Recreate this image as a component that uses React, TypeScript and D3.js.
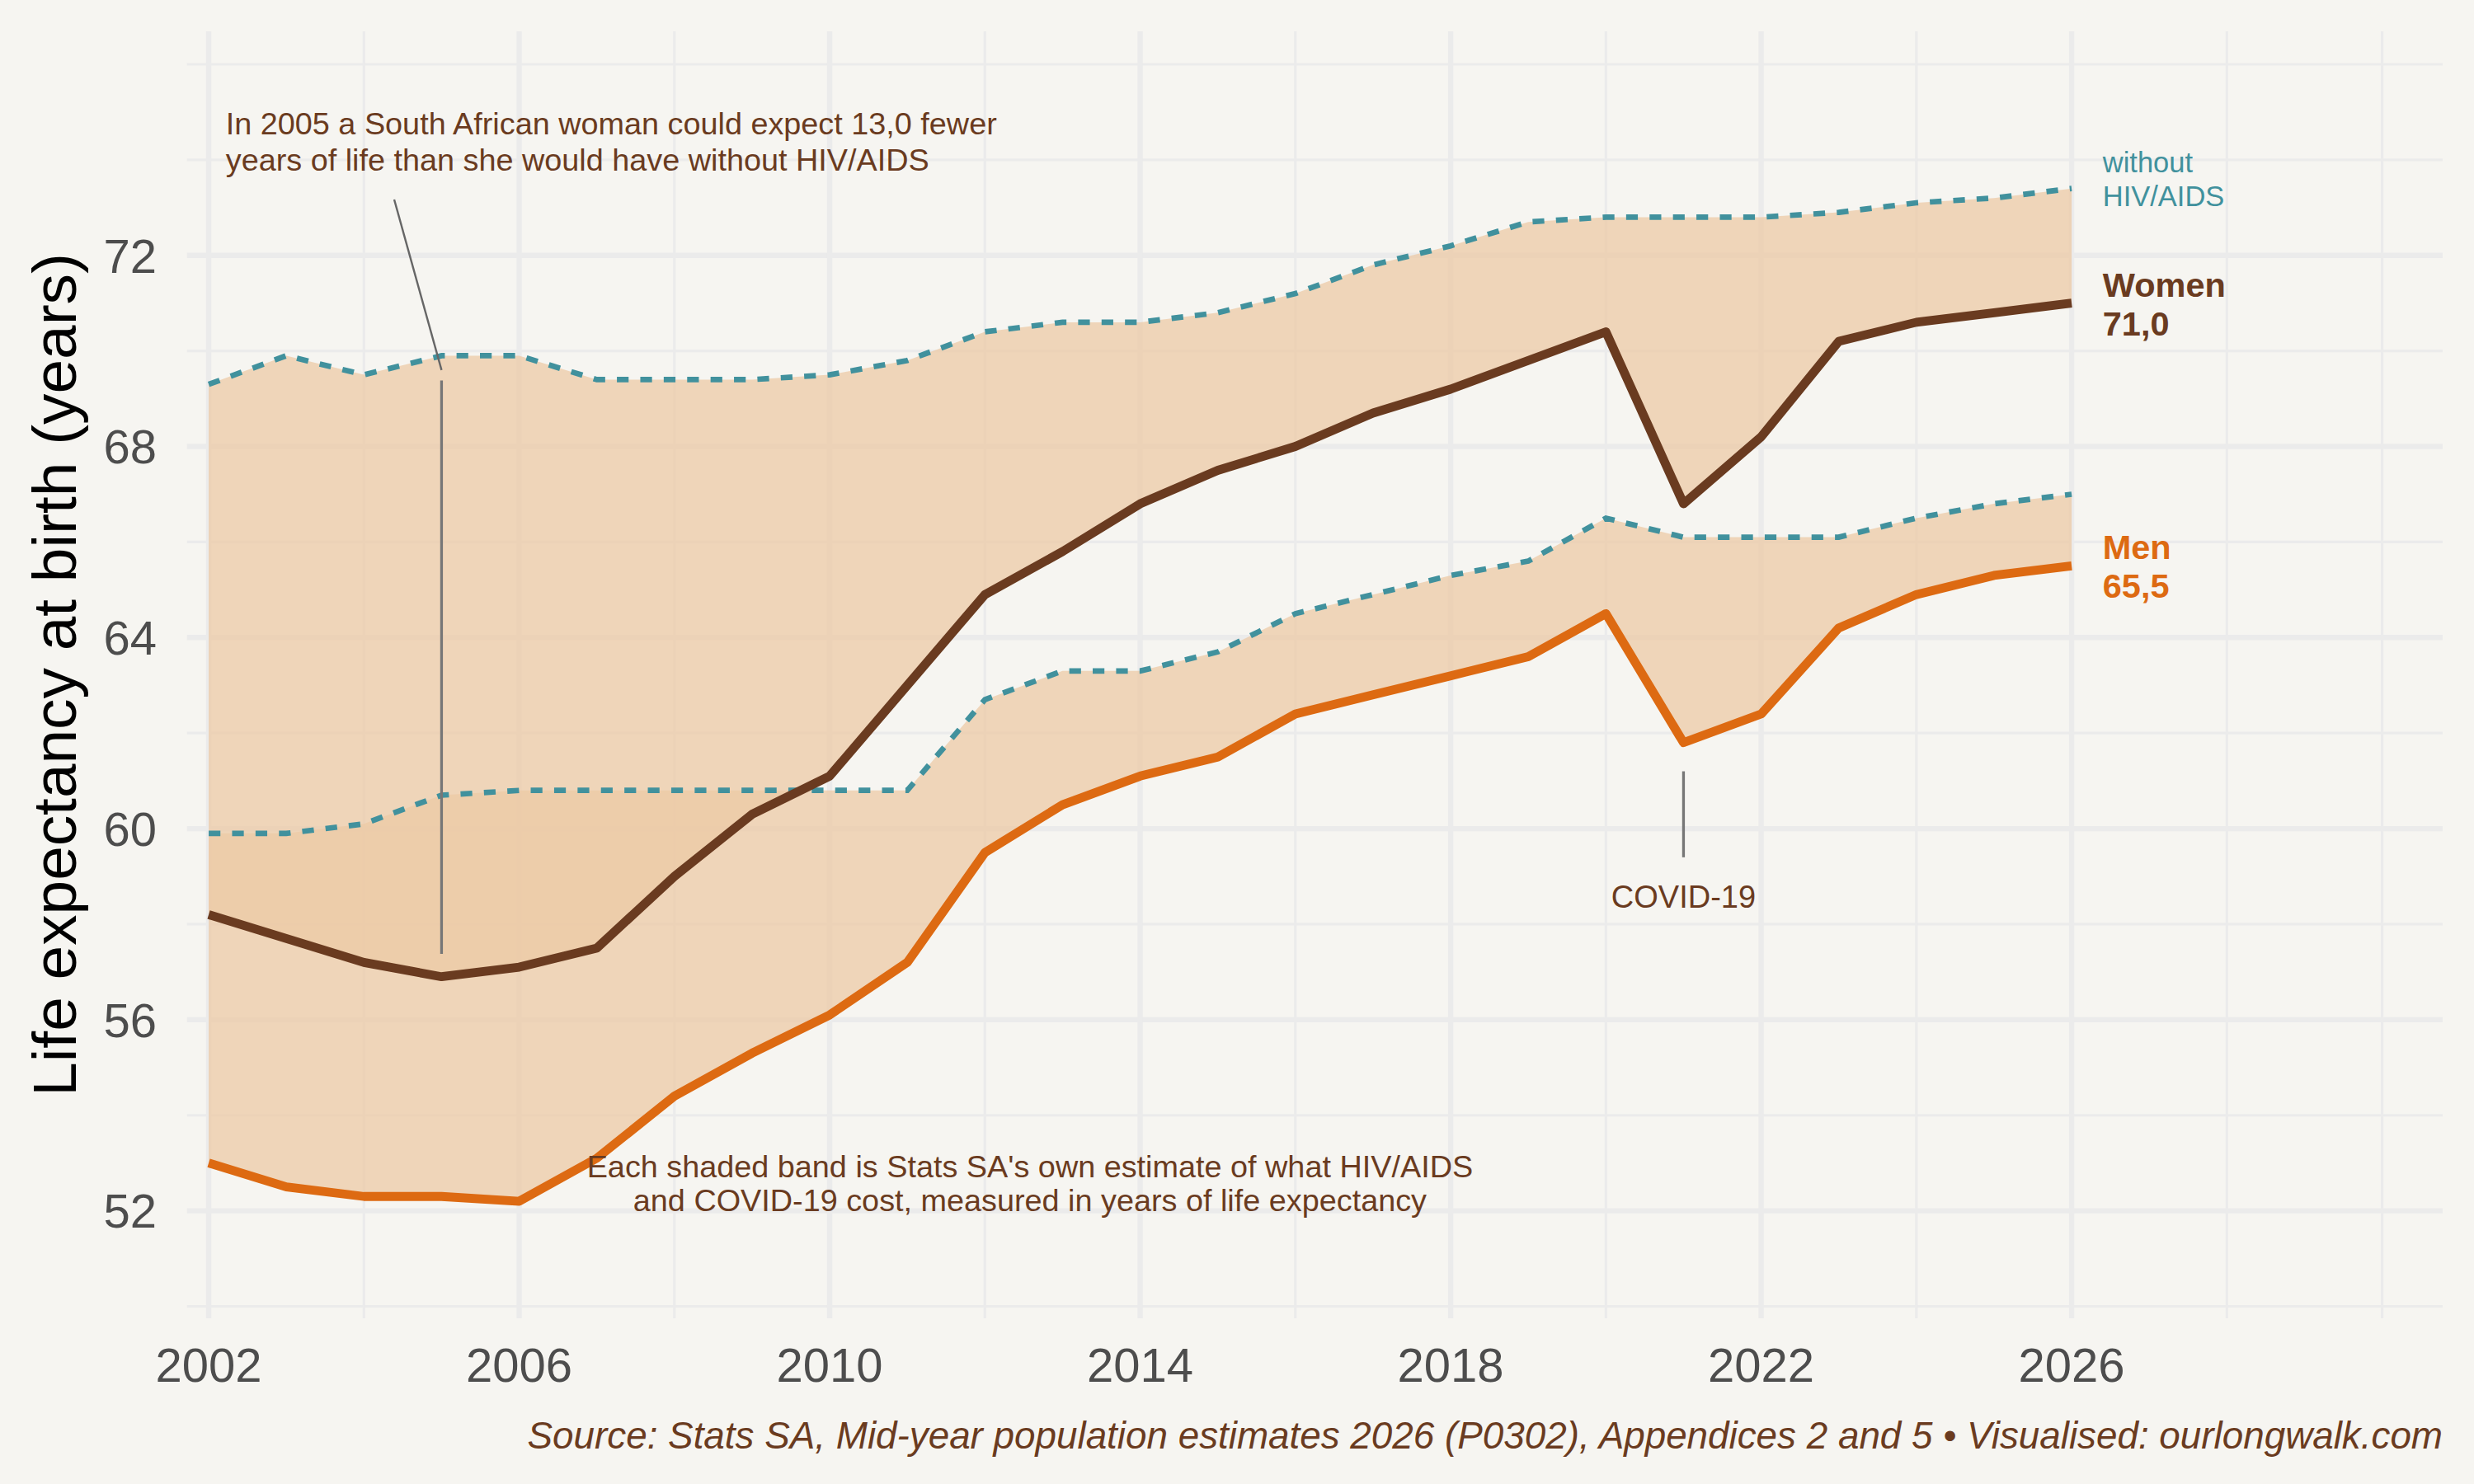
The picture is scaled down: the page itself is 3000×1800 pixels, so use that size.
import { useEffect } from "react"
import * as d3 from "d3"

// Stats SA mid-year estimates, life expectancy at birth
const years = [
  2002, 2003, 2004, 2005, 2006, 2007, 2008, 2009, 2010, 2011, 2012, 2013, 2014,
  2015, 2016, 2017, 2018, 2019, 2020, 2021, 2022, 2023, 2024, 2025, 2026,
]
const women = [
  58.2, 57.7, 57.2, 56.9, 57.1, 57.5, 59.0, 60.3, 61.1, 63.0, 64.9, 65.8, 66.8,
  67.5, 68.0, 68.7, 69.2, 69.8, 70.4, 66.8, 68.2, 70.2, 70.6, 70.8, 71.0,
]
const womenNoHiv = [
  69.3, 69.9, 69.5, 69.9, 69.9, 69.4, 69.4, 69.4, 69.5, 69.8, 70.4, 70.6, 70.6,
  70.8, 71.2, 71.8, 72.2, 72.7, 72.8, 72.8, 72.8, 72.9, 73.1, 73.2, 73.4,
]
const men = [
  53.0, 52.5, 52.3, 52.3, 52.2, 53.1, 54.4, 55.3, 56.1, 57.2, 59.5, 60.5, 61.1,
  61.5, 62.4, 62.8, 63.2, 63.6, 64.5, 61.8, 62.4, 64.2, 64.9, 65.3, 65.5,
]
const menNoHiv = [
  59.9, 59.9, 60.1, 60.7, 60.8, 60.8, 60.8, 60.8, 60.8, 60.8, 62.7, 63.3, 63.3,
  63.7, 64.5, 64.9, 65.3, 65.6, 66.5, 66.1, 66.1, 66.1, 66.5, 66.8, 67.0,
]

const xMajor = [2002, 2006, 2010, 2014, 2018, 2022, 2026]
const xMinor = [2004, 2008, 2012, 2016, 2020, 2024, 2028, 2030]
const yMajor = [52, 56, 60, 64, 68, 72]
const yMinor = [50, 54, 58, 62, 66, 70, 74, 76]

const W = 3000
const H = 1800
const BG = "#F6F5F1"
const GRID = "#EBEBEB"
const BROWN = "#6A3B20"
const ORANGE = "#DD6A12"
const TEAL = "#41919D"
const BAND = "#ECCAA6"
const FONT = "'Liberation Sans', Arial, Helvetica, sans-serif"

const x = d3.scaleLinear().domain([2001.72, 2030.78]).range([226.7, 2962])
const y = d3.scaleLinear().domain([49.75, 76.69]).range([1599, 38])

type Pt = { year: number; lo: number; hi: number }

function band(lo: number[], hi: number[]) {
  const pts: Pt[] = years.map((yr, i) => ({ year: yr, lo: lo[i], hi: hi[i] }))
  return d3
    .area<Pt>()
    .x((d) => x(d.year))
    .y0((d) => y(d.lo))
    .y1((d) => y(d.hi))(pts) as string
}

function line(vals: number[]) {
  return d3
    .line<number>()
    .x((_, i) => x(years[i]))
    .y((d) => y(d))(vals) as string
}

export default function App() {
  useEffect(() => {
    document.body.style.margin = "0"
    document.body.style.background = BG
  }, [])

  const [x0, x1] = x.range()
  const [y0, y1] = y.range()
  const labelX = x(2026.4)

  return (
    <svg width={W} height={H} style={{ display: "block" }} fontFamily={FONT}>
      <rect width={W} height={H} fill={BG} />

      {/* grid */}
      {yMinor.map((v) => (
        <line key={"ym" + v} x1={x0} x2={x1} y1={y(v)} y2={y(v)} stroke={GRID} strokeWidth={3.2} />
      ))}
      {xMinor.map((v) => (
        <line key={"xm" + v} x1={x(v)} x2={x(v)} y1={y0} y2={y1} stroke={GRID} strokeWidth={3.2} />
      ))}
      {yMajor.map((v) => (
        <line key={"yM" + v} x1={x0} x2={x1} y1={y(v)} y2={y(v)} stroke={GRID} strokeWidth={6.4} />
      ))}
      {xMajor.map((v) => (
        <line key={"xM" + v} x1={x(v)} x2={x(v)} y1={y0} y2={y1} stroke={GRID} strokeWidth={6.4} />
      ))}

      {/* shaded bands */}
      <path d={band(men, menNoHiv)} fill={BAND} fillOpacity={0.75} />
      <path d={band(women, womenNoHiv)} fill={BAND} fillOpacity={0.75} />

      {/* lines */}
      <path d={line(menNoHiv)} fill="none" stroke={TEAL} strokeWidth={6.7} strokeDasharray="14.2 14.2" />
      <path d={line(womenNoHiv)} fill="none" stroke={TEAL} strokeWidth={6.7} strokeDasharray="14.2 14.2" />
      <path d={line(men)} fill="none" stroke={ORANGE} strokeWidth={10.8} strokeLinejoin="round" />
      <path d={line(women)} fill="none" stroke={BROWN} strokeWidth={10.8} strokeLinejoin="round" />

      {/* annotations */}
      <line x1={x(2004.39)} y1={y(73.17)} x2={x(2005)} y2={y(69.6)} stroke="#666666" strokeWidth={2.4} />
      <line x1={x(2005)} y1={y(69.38)} x2={x(2005)} y2={y(57.38)} stroke="#777777" strokeWidth={3.3} />
      <text fontSize={37.8} fill={BROWN}>
        <tspan x={x(2002.22)} y={163.3}>In 2005 a South African woman could expect 13,0 fewer</tspan>
        <tspan x={x(2002.22)} y={206.7}>years of life than she would have without HIV/AIDS</tspan>
      </text>

      <line x1={x(2021)} y1={y(61.2)} x2={x(2021)} y2={y(59.4)} stroke="#777777" strokeWidth={3.3} />
      <text x={x(2021)} y={1101} fontSize={38} fill={BROWN} textAnchor="middle">
        COVID-19
      </text>

      <text fontSize={37.8} fill={BROWN} textAnchor="middle">
        <tspan x={x(2012.58)} y={1427.5}>Each shaded band is Stats SA's own estimate of what HIV/AIDS</tspan>
        <tspan x={x(2012.58)} y={1469}>and COVID-19 cost, measured in years of life expectancy</tspan>
      </text>

      {/* end labels */}
      <text fontSize={34.5} fill={TEAL}>
        <tspan x={labelX} y={y(73.4) - 20}>without</tspan>
        <tspan x={labelX} y={y(73.4) + 21}>HIV/AIDS</tspan>
      </text>
      <text fontSize={41.5} fontWeight="bold" fill={BROWN}>
        <tspan x={labelX} y={y(71.0) - 8}>Women</tspan>
        <tspan x={labelX} y={y(71.0) + 39}>71,0</tspan>
      </text>
      <text fontSize={41.5} fontWeight="bold" fill={ORANGE}>
        <tspan x={labelX} y={y(65.5) - 8}>Men</tspan>
        <tspan x={labelX} y={y(65.5) + 39}>65,5</tspan>
      </text>

      {/* axes */}
      {yMajor.map((v) => (
        <text key={"yl" + v} x={190} y={y(v) + 20.8} fontSize={58} fill="#4D4D4D" textAnchor="end">
          {v}
        </text>
      ))}
      {xMajor.map((v) => (
        <text key={"xl" + v} x={x(v)} y={1676} fontSize={58} fill="#4D4D4D" textAnchor="middle">
          {v}
        </text>
      ))}
      <text
        transform={`translate(92, ${(y0 + y1) / 2}) rotate(-90)`}
        fontSize={74.8}
        fill="#000000"
        textAnchor="middle"
      >
        Life expectancy at birth (years)
      </text>

      <text x={2962} y={1756.6} fontSize={45.8} fontStyle="italic" fill={BROWN} textAnchor="end">
        Source: Stats SA, Mid-year population estimates 2026 (P0302), Appendices 2 and 5 • Visualised: ourlongwalk.com
      </text>
    </svg>
  )
}
